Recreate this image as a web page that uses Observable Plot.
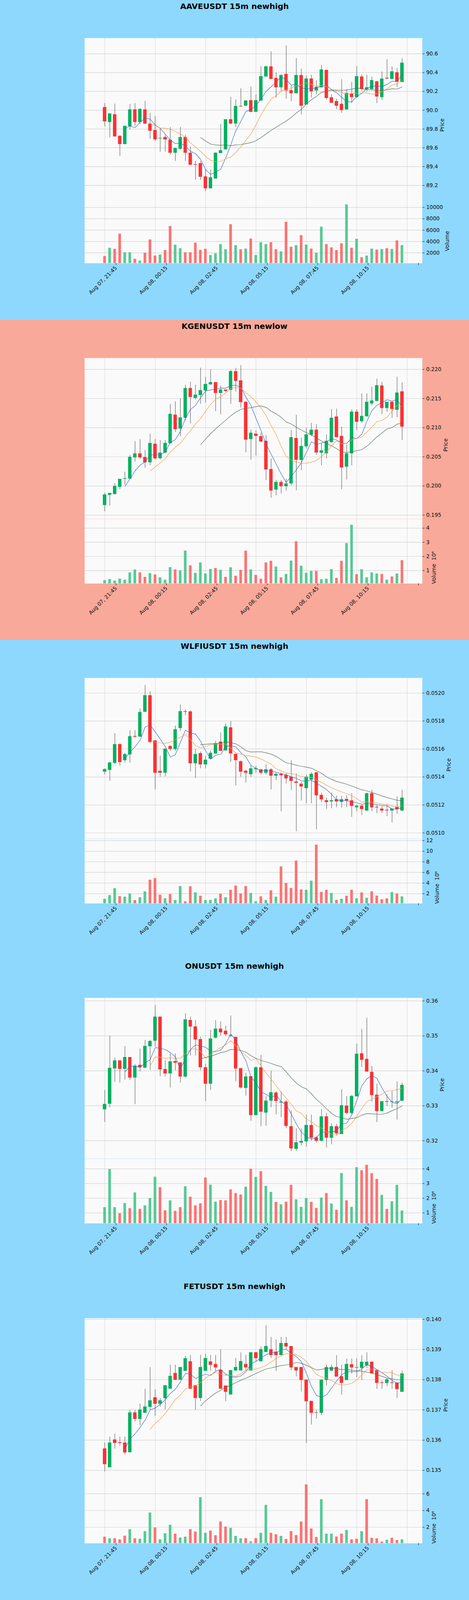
<!DOCTYPE html>
<html><head><meta charset="utf-8">
<script src="https://cdn.jsdelivr.net/npm/d3@7"></script>
<script src="https://cdn.jsdelivr.net/npm/@observablehq/plot@0.6"></script>
<style>
html,body{margin:0;padding:0;}
body{width:1200px;overflow:hidden;font-family:"DejaVu Sans",sans-serif;}
.panel{position:relative;width:1200px;overflow:hidden;}
.title{position:absolute;left:0;width:1200px;text-align:center;font-family:"DejaVu Sans";font-weight:bold;font-size:20px;line-height:24px;color:#000;}
.panel svg{position:absolute;left:0;overflow:visible;}
</style></head><body><div id="root"></div>
<script>
// ---------- shared axis data ----------
const xTickIdx = [0, 10, 20, 30, 40, 50, 60];
const xTickLabels = ["Aug 07, 21:45", "Aug 08, 00:15", "Aug 08, 02:45", "Aug 08, 05:15", "Aug 08, 07:45", "Aug 08, 10:15", ""];
const maWindows = [5, 10, 20];

// ---------- AAVEUSDT ----------
const aaveOpen = [90.03,89.874,89.953,89.724,89.64,89.83,90.005,89.874,90.005,89.854, 89.786,89.70,89.711,89.682,89.548,89.59,89.711,89.544,89.422,89.433, 89.292,89.169,89.273,89.544,89.584,89.90,89.858,90.042,90.048,90.103, 89.983,90.103,90.359,90.463,90.34,90.244,90.382,90.21,90.181,90.371, 90.061,90.333,90.21,90.244,90.425,90.133,90.094,90.064,90.009,90.172, 90.14,90.355,90.225,90.225,90.303,90.14,90.342,90.333,90.40,90.30];
const aaveHigh = [90.074,89.962,90.068,89.73,89.83,90.064,90.074,90.02,90.098,89.97, 89.937,89.81,89.734,89.819,89.60,89.819,89.734,89.61,89.459,89.459, 89.368,89.368,89.55,89.852,89.90,90.14,90.113,90.231,90.10,90.25, 90.166,90.467,90.47,90.624,90.40,90.38,90.69,90.264,90.552,90.44, 90.369,90.375,90.316,90.48,90.43,90.166,90.12,90.329,90.22,90.30, 90.467,90.38,90.375,90.355,90.31,90.41,90.541,90.463,90.447,90.552];
const aaveLow = [89.826,89.708,89.72,89.512,89.64,89.793,89.83,89.85,89.85,89.695, 89.669,89.557,89.557,89.525,89.459,89.58,89.459,89.42,89.257,89.257, 89.135,89.169,89.27,89.544,89.58,89.85,89.82,90.035,90.045,89.976, 89.983,90.10,90.355,90.33,90.133,90.20,90.12,90.094,90.18,89.95, 90.06,90.133,90.166,90.24,90.113,90.08,90.009,89.97,90.0,90.074, 90.13,90.205,90.20,90.22,90.074,90.107,90.33,90.33,90.244,90.30];
const aaveClose = [89.881,89.962,89.721,89.64,89.83,90.005,89.874,90.01,89.858,89.782, 89.69,89.702,89.69,89.548,89.593,89.711,89.548,89.42,89.42,89.292, 89.169,89.283,89.544,89.571,89.90,89.858,90.041,90.04,90.10,89.983, 90.103,90.359,90.463,90.333,90.244,90.371,90.21,90.181,90.371,90.048, 90.333,90.202,90.244,90.43,90.13,90.08,90.048,90.002,90.179,90.14, 90.359,90.225,90.24,90.316,90.146,90.333,90.338,90.41,90.303,90.502];
const aaveVolume = [1420,2865,2685,5350,2070,2070,920,600,2000,4340, 1500,1680,2470,6690,3400,2790,2070,2070,3770,2500, 2685,1600,1890,3510,2610,7010,3330,2610,2720,4490, 1600,3840,3510,3840,2610,2220,7440,3050,3330,5100, 3440,2720,2000,6580,3510,2940,2470,3660,10500,2865, 4450,1210,1500,2720,2540,2650,2790,2650,4160,3330];
const aaveVolDir = "dudduududd" + "dudduudddd" + "duuuududud" + "uuudduddud" + "uduuddddud" + "uduudududu";
const aavePriceTicks = [89.2, 89.4, 89.6, 89.8, 90.0, 90.2, 90.4, 90.6];
const aaveVolTicks = [2000, 4000, 6000, 8000, 10000];

// ---------- KGENUSDT ----------
const kgenOpen = [0.19673,0.19848,0.19863,0.19985,0.20124,0.20126,0.2049,0.20553,0.2049,0.20406, 0.20718,0.20476,0.20574,0.20732,0.21217,0.20985,0.2117,0.21674,0.21511,0.2156, 0.21638,0.21743,0.21775,0.21596,0.21648,0.21648,0.21964,0.21806,0.21438,0.20806, 0.2089,0.20848,0.20768,0.20284,0.19938,0.20063,0.19995,0.20044,0.20816,0.20448, 0.2068,0.20878,0.2096,0.2057,0.2056,0.20753,0.21185,0.20852,0.20332,0.2056, 0.21269,0.21111,0.21196,0.21417,0.21459,0.21718,0.21337,0.21438,0.21307,0.21617];
const kgenHigh = [0.19879,0.1988,0.20048,0.2012,0.20241,0.20532,0.20764,0.20802,0.20616,0.20894, 0.20802,0.20785,0.20785,0.21406,0.21448,0.21501,0.21733,0.21785,0.21733,0.22027, 0.21869,0.22,0.2178,0.2172,0.2165,0.21985,0.22023,0.2207,0.2145,0.20964, 0.20953,0.20911,0.2087,0.20469,0.2010,0.2010,0.2012,0.20958,0.21217,0.20827, 0.20995,0.2108,0.21059,0.20732,0.2088,0.21316,0.21322,0.21017,0.20705,0.21311, 0.21311,0.21585,0.21585,0.2170,0.21838,0.21785,0.21438,0.2144,0.21869,0.21775];
const kgenLow = [0.19563,0.19658,0.19848,0.19942,0.20016,0.2012,0.20416,0.2046,0.20311,0.20353, 0.20448,0.2045,0.20553,0.2073,0.20922,0.2085,0.21122,0.21069,0.2148,0.21406, 0.21427,0.2173,0.2128,0.21227,0.2161,0.21406,0.21617,0.21343,0.20574,0.20448, 0.2052,0.20743,0.2010,0.19795,0.19837,0.19869,0.19917,0.20006,0.19921,0.20269, 0.20637,0.2085,0.2053,0.20353,0.20469,0.2074,0.20827,0.19942,0.20111,0.20353, 0.20953,0.2108,0.21185,0.2138,0.21448,0.21227,0.21269,0.21164,0.21174,0.20785];
const kgenClose = [0.19848,0.19873,0.19995,0.20115,0.20128,0.20494,0.20553,0.2049,0.20406,0.20732, 0.20473,0.20566,0.20732,0.21231,0.20974,0.2117,0.21674,0.21526,0.2156,0.21638, 0.21743,0.21775,0.21596,0.21648,0.21631,0.21964,0.21802,0.21438,0.20795,0.20907, 0.20859,0.20764,0.20284,0.19921,0.20063,0.19995,0.20037,0.20831,0.20448,0.2068, 0.20878,0.2096,0.20574,0.20605,0.20768,0.21164,0.20837,0.20317,0.20553,0.21269, 0.21101,0.21196,0.21438,0.21459,0.21722,0.21337,0.21438,0.21322,0.21596,0.21017];
const kgenVolume = [0.31,0.39,0.28,0.42,0.34,0.86,1.06,0.86,0.54,0.81, 0.71,0.51,0.34,1.23,1.07,1.0,2.4,1.36,0.83,1.56, 0.78,1.1,1.17,1.04,0.54,1.22,0.62,1.04,2.4,1.07, 0.68,0.41,1.56,1.68,1.27,0.51,0.75,1.69,3.06,1.33, 0.83,0.96,0.96,0.38,0.41,1.09,0.47,1.68,2.93,4.23, 0.73,1.09,0.51,0.86,0.78,0.75,0.34,0.57,0.78,1.72]; // x 10^6
const kgenVolDir = "uuuuuuuddu" + "duuuduuduu" + "uudududddu" + "dddduduudu" + "uuduuudduu" + "duuuududud";
const kgenPriceTicks = [0.195, 0.200, 0.205, 0.210, 0.215, 0.220];
const kgenVolTicks = [1, 2, 3, 4];

// ---------- WLFIUSDT ----------
const wlfiOpen = [0.051438,0.05145,0.051501,0.051632,0.05152,0.051561,0.05169,0.051689,0.051866,0.051982, 0.051659,0.051441,0.05143,0.051619,0.0516,0.05175,0.051868,0.051866,0.051498,0.051568, 0.05149,0.05153,0.051568,0.05165,0.05159,0.051752,0.051563,0.05151,0.051441,0.05142, 0.051455,0.051452,0.05143,0.051452,0.051409,0.05142,0.051412,0.0514,0.051365,0.051349, 0.05132,0.051381,0.05143,0.051269,0.051231,0.051225,0.051238,0.051222,0.05124,0.05123, 0.051183,0.051192,0.05116,0.051281,0.051184,0.051171,0.051163,0.05116,0.051183,0.05116];
const wlfiHigh = [0.05146,0.051507,0.051712,0.051639,0.05157,0.051733,0.051733,0.051889,0.052056,0.052012, 0.05166,0.05155,0.0516,0.051626,0.051766,0.051917,0.051881,0.051875,0.051599,0.051581, 0.05155,0.051586,0.051657,0.051717,0.051782,0.051798,0.051563,0.051516,0.051452,0.051479, 0.051479,0.051454,0.051489,0.051461,0.051427,0.05143,0.05143,0.051519,0.051425,0.051363, 0.051416,0.051434,0.051434,0.051287,0.051251,0.051287,0.051265,0.051263,0.051269,0.051283, 0.051198,0.051198,0.051285,0.051307,0.051198,0.051189,0.051207,0.051174,0.05126,0.051307];
const wlfiLow = [0.051416,0.051372,0.051492,0.05148,0.051501,0.051501,0.05168,0.051684,0.051862,0.051639, 0.051309,0.0514,0.051403,0.051586,0.051586,0.051728,0.05184,0.051438,0.051391,0.051461, 0.051461,0.051528,0.051563,0.051585,0.051586,0.051507,0.051338,0.0514,0.051358,0.0514, 0.051427,0.051416,0.051416,0.051309,0.051376,0.051153,0.051352,0.051305,0.051011,0.05123, 0.051211,0.051211,0.051024,0.051218,0.051171,0.051175,0.051183,0.05118,0.051183,0.051113, 0.051153,0.051127,0.051155,0.051153,0.05114,0.05114,0.051118,0.051073,0.051135,0.051153];
const wlfiClose = [0.051454,0.051501,0.051632,0.051507,0.051561,0.051689,0.051688,0.051862,0.051982,0.05165, 0.05143,0.05143,0.0516,0.0516,0.051739,0.051868,0.051866,0.051498,0.051561,0.05149, 0.051521,0.05157,0.051639,0.051587,0.051759,0.051568,0.05152,0.051438,0.05143,0.051459, 0.05146,0.05143,0.051452,0.051409,0.05142,0.051412,0.05139,0.051372,0.051358,0.051332, 0.0514,0.05142,0.051269,0.05124,0.05122,0.051231,0.051225,0.051238,0.051231,0.051193, 0.051192,0.051171,0.051281,0.051183,0.051182,0.05116,0.051161,0.051171,0.051171,0.05125];
const wlfiVolume = [1.0,1.7,3.0,1.5,1.4,2.0,0.77,1.3,2.4,4.6, 4.9,1.77,1.08,1.9,0.77,3.4,0.54,3.35,2.2,1.58, 0.77,0.8,1.08,1.96,1.3,2.7,3.5,2.0,3.4,2.1, 0.54,1.46,0.77,2.6,1.4,7.1,4.0,3.04,8.2,2.77, 2.7,4.4,11.2,2.3,2.7,2.1,0.8,1.0,1.58,2.7, 1.08,2.2,1.2,2.4,1.6,0.92,1.08,2.27,2.0,1.46]; // x 10^6
const wlfiVolDir = "uuuduuduud" + "dduduuddud" + "uuududdddu" + "udududdddd" + "uudddududd" + "ududdddudu";
const wlfiPriceTicks = [0.0510, 0.0512, 0.0514, 0.0516, 0.0518, 0.0520];
const wlfiVolTicks = [2, 4, 6, 8, 10, 12];

// ---------- ONUSDT ----------
const onOpen = [0.329007,0.330597,0.3407,0.342895,0.340563,0.343849,0.338089,0.341623,0.340916,0.34703, 0.348621,0.355406,0.340422,0.339256,0.342683,0.3423,0.338372,0.354452,0.352615,0.348974, 0.340916,0.336322,0.349504,0.351978,0.351377,0.3501,0.34961,0.340669,0.335121,0.338372, 0.327346,0.340916,0.328053,0.331481,0.333707,0.330951,0.331128,0.324059,0.317698,0.31947, 0.319819,0.324412,0.320879,0.32,0.326887,0.320879,0.324059,0.321939,0.329961,0.32795, 0.332717,0.34491,0.343319,0.339609,0.33307,0.328477,0.331198,0.33113,0.33095,0.331481];
const onHigh = [0.334485,0.350034,0.343744,0.3429,0.34703,0.34385,0.341906,0.346324,0.348797,0.3488, 0.358798,0.35545,0.342966,0.34491,0.34491,0.3424,0.356395,0.355512,0.354452,0.349681, 0.341977,0.35173,0.354452,0.354098,0.352861,0.3558,0.3497,0.34067,0.339433,0.3384, 0.341199,0.344557,0.332717,0.339962,0.334131,0.3341,0.331658,0.328654,0.323529,0.32353, 0.327417,0.327417,0.321409,0.329007,0.327947,0.324943,0.32477,0.334662,0.332717,0.33307, 0.347737,0.351978,0.355158,0.341376,0.336251,0.3312,0.333247,0.334131,0.336959,0.336605];
const onLow = [0.325296,0.329537,0.336782,0.336605,0.337488,0.337382,0.330421,0.339786,0.340669,0.3403, 0.346854,0.338372,0.338372,0.335191,0.34014,0.336605,0.338019,0.34438,0.34438,0.34014, 0.331304,0.334485,0.349151,0.350034,0.34996,0.3496,0.33696,0.334838,0.332894,0.325649, 0.3272,0.324059,0.324236,0.329537,0.327487,0.32671,0.323529,0.316992,0.316992,0.318583, 0.318229,0.319996,0.319465,0.3198,0.318052,0.318935,0.321409,0.3218,0.327593,0.32759, 0.3327,0.341022,0.3397,0.331128,0.325296,0.3284,0.32989,0.32936,0.326003,0.3313];
const onClose = [0.330421,0.340775,0.342895,0.340563,0.343849,0.338089,0.341376,0.341022,0.34703,0.348444, 0.355406,0.340422,0.339256,0.342613,0.34233,0.338372,0.354628,0.352685,0.348974,0.341022, 0.336322,0.349151,0.351978,0.351024,0.350458,0.35,0.340669,0.335262,0.338301,0.327346, 0.340916,0.3283,0.331375,0.333778,0.331375,0.331128,0.324236,0.317804,0.319465,0.319819, 0.324412,0.320879,0.319996,0.326887,0.320879,0.324059,0.322115,0.330067,0.327947,0.332717, 0.344804,0.343143,0.339786,0.33307,0.328477,0.331198,0.33113,0.33117,0.33113,0.335898];
const onVolume = [1.38,3.97,1.38,0.96,1.66,1.31,2.38,1.26,1.5,2.0, 3.45,2.74,1.17,1.84,1.13,1.38,2.8,2.09,1.5,1.64, 3.4,2.91,1.75,1.86,1.84,2.59,2.34,2.24,2.77,4.0, 3.44,3.83,2.83,2.42,1.74,1.57,1.75,2.9,1.91,1.4, 2.0,1.74,1.33,2.03,2.34,1.63,1.2,3.7,1.84,1.4, 4.1,3.89,4.26,3.69,3.3,2.21,1.26,1.78,2.9,1.15]; // x 10^6
const onVolDir = "uuudududuu" + "uddudduddd" + "duudddddud" + "uduududduu" + "uddudududu" + "udddduduuu";
const onPriceTicks = [0.32, 0.33, 0.34, 0.35, 0.36];
const onVolTicks = [1, 2, 3, 4];

// ---------- FETUSDT ----------
const fetOpen = [0.135714,0.135102,0.136008,0.13592,0.13591,0.1356,0.136906,0.136702,0.136906,0.137102, 0.137408,0.137204,0.137388,0.137702,0.138212,0.138,0.138294,0.1386,0.137804,0.137396, 0.138294,0.138592,0.13851,0.138318,0.137796,0.13751,0.138306,0.138306,0.13851,0.138306, 0.138898,0.138612,0.138918,0.139,0.138918,0.138816,0.139204,0.139102,0.138408,0.138408, 0.137992,0.137286,0.136906,0.136906,0.137992,0.1383,0.138408,0.138102,0.137992,0.1385, 0.138405,0.138393,0.138477,0.138584,0.138313,0.1379,0.137893,0.1379,0.137893,0.1376];
const fetHigh = [0.135918,0.136114,0.136204,0.136114,0.136114,0.137,0.137,0.137204,0.137694,0.138408, 0.137673,0.137388,0.137804,0.13849,0.13849,0.13841,0.138784,0.138816,0.137804,0.138816, 0.138857,0.138816,0.138816,0.139,0.1378,0.13831,0.138714,0.138898,0.138816,0.1389, 0.1389,0.139102,0.139796,0.139408,0.139327,0.139408,0.139408,0.139102,0.13841,0.13841, 0.138,0.13729,0.137,0.138,0.13849,0.13849,0.138808,0.13849,0.138694,0.1387, 0.1387,0.138804,0.138897,0.1386,0.13832,0.137963,0.138056,0.138313,0.1379,0.13829];
const fetLow = [0.134959,0.1351,0.135714,0.135816,0.135518,0.1356,0.136612,0.13649,0.1369,0.137, 0.136796,0.137102,0.13702,0.1377,0.13798,0.138,0.13829,0.1377,0.137,0.137286, 0.13829,0.13829,0.138286,0.1377,0.137286,0.13751,0.1383,0.1383,0.138306,0.1383, 0.138592,0.13859,0.138918,0.138714,0.138286,0.1388,0.139,0.138306,0.138102,0.1376, 0.135898,0.13651,0.136702,0.136816,0.137804,0.1383,0.1381,0.137502,0.13799,0.138206, 0.13808,0.137986,0.138383,0.1382,0.137692,0.137692,0.137785,0.137692,0.137393,0.1376];
const fetClose = [0.135204,0.13591,0.13591,0.13591,0.135592,0.136906,0.136702,0.137,0.137102,0.137306, 0.137204,0.137306,0.137804,0.138114,0.138,0.138408,0.138702,0.137702,0.137396,0.138408, 0.138706,0.13849,0.138408,0.137702,0.1376,0.138306,0.138408,0.138604,0.138408,0.138898, 0.138714,0.139,0.139102,0.138816,0.138816,0.139204,0.139102,0.138408,0.138306,0.137992, 0.137286,0.136906,0.136904,0.137992,0.138408,0.138408,0.138102,0.137898,0.13851,0.138407, 0.1384,0.138584,0.138584,0.138206,0.137893,0.137893,0.138,0.137893,0.137692,0.138196];
const fetVolume = [0.85,0.65,0.65,0.53,0.97,1.73,0.65,0.6,1.51,3.74, 1.95,0.53,1.26,2.27,1.21,0.75,0.85,1.75,1.46,5.58, 1.31,1.58,1.02,2.66,2.05,1.9,0.94,0.65,0.67,0.3, 0.67,1.31,4.65,1.31,1.14,0.94,0.58,1.51,1.04,2.66, 7.1,1.83,0.82,5.34,1.21,1.21,0.87,1.21,1.66,0.53, 0.6,1.51,5.34,0.72,0.65,0.26,0.48,0.72,0.45,0.53]; // x 10^6
const fetVolDir = "duddduduuu" + "duuuduuddu" + "udddduuudu" + "duuddudddd" + "ddduuuddud" + "dudddduddu";
const fetPriceTicks = [0.135, 0.136, 0.137, 0.138, 0.139, 0.140];
const fetVolTicks = [2, 4, 6];

// ---------- styling / layout ----------
// The layout is designed for a 4310px-tall page; if the visible viewport is shorter,
// the vertical layout is compressed so that every panel stays in view.
const DESIGN_H = 4310;
const viewH = (window.innerHeight && window.innerHeight > 1000) ? Math.min(DESIGN_H, window.innerHeight) : DESIGN_H;
const SY = viewH / DESIGN_H;
const W = 1200, ML = 216, MR = 120;
const PANEL_H = 862 * SY;
const PRICE_TOP = 102 * SY, SPLIT = 535 * SY, BOTTOM = 709 * SY, XAXIS_SPACE = 110;
const TITLE_TOP = 4 * SY;
const X_DOMAIN = [-4, 63];
const UP = "#00b060", DOWN = "#fe3032", VUP = "#4dc790", VDOWN = "#fd6b6c", WICK = "#444444";
const MA_COLORS = ["#3b6cc6", "#f59b4c", "#56705f"];
const FONT = '"DejaVu Sans", sans-serif';
const TICK_FS = 13.5, LABEL_FS = 13.9;
const BLUE_BG = "#8ed8fe", SALMON_BG = "#f8a99a";

const panels = [
  {title: "AAVEUSDT 15m newhigh", bg: BLUE_BG, o: aaveOpen, h: aaveHigh, l: aaveLow, c: aaveClose, v: aaveVolume, vd: aaveVolDir, pt: aavePriceTicks, pf: d => d.toFixed(1), vt: aaveVolTicks, vl: "Volume"},
  {title: "KGENUSDT 15m newlow", bg: SALMON_BG, o: kgenOpen, h: kgenHigh, l: kgenLow, c: kgenClose, v: kgenVolume, vd: kgenVolDir, pt: kgenPriceTicks, pf: d => d.toFixed(3), vt: kgenVolTicks, vl: "Volume\u00a0 10\u2076"},
  {title: "WLFIUSDT 15m newhigh", bg: BLUE_BG, o: wlfiOpen, h: wlfiHigh, l: wlfiLow, c: wlfiClose, v: wlfiVolume, vd: wlfiVolDir, pt: wlfiPriceTicks, pf: d => d.toFixed(4), vt: wlfiVolTicks, vl: "Volume\u00a0 10\u2076"},
  {title: "ONUSDT 15m newhigh", bg: BLUE_BG, o: onOpen, h: onHigh, l: onLow, c: onClose, v: onVolume, vd: onVolDir, pt: onPriceTicks, pf: d => d.toFixed(2), vt: onVolTicks, vl: "Volume\u00a0 10\u2076"},
  {title: "FETUSDT 15m newhigh", bg: BLUE_BG, o: fetOpen, h: fetHigh, l: fetLow, c: fetClose, v: fetVolume, vd: fetVolDir, pt: fetPriceTicks, pf: d => d.toFixed(3), vt: fetVolTicks, vl: "Volume\u00a0 10\u2076"}
];

const ctx = document.createElement("canvas").getContext("2d");
function textWidth(s, size) { ctx.font = `${size}px "DejaVu Sans"`; return ctx.measureText(s).width; }

document.body.style.height = (PANEL_H * panels.length) + "px";
const root = document.getElementById("root");
for (const p of panels) {
  const div = document.createElement("div");
  div.className = "panel";
  div.style.height = PANEL_H + "px";
  div.style.background = p.bg;
  const t = document.createElement("div");
  t.className = "title";
  t.style.top = TITLE_TOP + "px";
  t.textContent = p.title;
  div.appendChild(t);

  const data = p.o.map((o, i) => ({i, open: o, high: p.h[i], low: p.l[i], close: p.c[i], vol: p.v[i], vup: p.vd[i] === "u"}));
  const lo = d3.min(p.l), hi = d3.max(p.h), pad = (hi - lo) * 0.05;
  const yDom = [lo - pad, hi + pad];
  const vDom = [0.3 * d3.min(p.v), 1.1 * d3.max(p.v)];
  const vf = d => String(d);
  const priceLabelDx = 10 + d3.max(p.pt, d => textWidth(p.pf(d), TICK_FS)) + 11;
  const volLabelDx = 10 + d3.max(p.vt, d => textWidth(vf(d), TICK_FS)) + 11;

  const price = Plot.plot({
    width: W, height: SPLIT - PRICE_TOP,
    marginLeft: ML, marginRight: MR, marginTop: 0, marginBottom: 0,
    style: {background: "transparent", fontFamily: FONT, overflow: "visible"},
    x: {domain: X_DOMAIN, axis: null},
    y: {domain: yDom, axis: null},
    marks: [
      Plot.frame({fill: "#fafafa", stroke: "none"}),
      Plot.gridX(xTickIdx, {stroke: "#dcdcdc", strokeOpacity: 1, strokeWidth: 1.2}),
      Plot.gridY(p.pt, {stroke: "#d0d0d0", strokeOpacity: 1, strokeWidth: 1.2}),
      Plot.ruleX(data, {x: "i", y1: "low", y2: "high", stroke: WICK, strokeWidth: 1}),
      Plot.rect(data, {x1: d => d.i - 0.3, x2: d => d.i + 0.3, y1: "open", y2: "close",
        fill: d => d.close >= d.open ? UP : DOWN, stroke: d => d.close >= d.open ? UP : DOWN, strokeWidth: 1}),
      ...maWindows.map((k, j) => Plot.line(data, Plot.windowY({k, anchor: "end", strict: true, reduce: "mean"},
        {x: "i", y: "close", stroke: MA_COLORS[j], strokeWidth: 1.2}))),
      Plot.axisY(p.pt, {anchor: "right", tickSize: 5, tickPadding: 5, tickFormat: p.pf, fontSize: TICK_FS, color: "#101010", label: null}),
      Plot.text(["Price"], {frameAnchor: "right", dx: priceLabelDx, rotate: -90, fontSize: LABEL_FS, fill: "#101010"})
    ]
  });
  price.style.top = PRICE_TOP + "px";
  div.appendChild(price);

  const vol = Plot.plot({
    width: W, height: BOTTOM - SPLIT + XAXIS_SPACE,
    marginLeft: ML, marginRight: MR, marginTop: 0, marginBottom: XAXIS_SPACE,
    style: {background: "transparent", fontFamily: FONT, overflow: "visible"},
    x: {domain: X_DOMAIN, axis: null},
    y: {domain: vDom, axis: null},
    marks: [
      Plot.frame({fill: "#fafafa", stroke: "none"}),
      Plot.gridX(xTickIdx, {stroke: "#dcdcdc", strokeOpacity: 1, strokeWidth: 1.2}),
      Plot.gridY(p.vt, {stroke: "#d0d0d0", strokeOpacity: 1, strokeWidth: 1.2}),
      Plot.rect(data, {x1: d => d.i - 0.26, x2: d => d.i + 0.26, y1: vDom[0], y2: "vol",
        fill: d => d.vup ? VUP : VDOWN, fillOpacity: 0.95}),
      Plot.axisY(p.vt, {anchor: "right", tickSize: 5, tickPadding: 5, tickFormat: vf, fontSize: TICK_FS, color: "#101010", label: null}),
      Plot.axisX(xTickIdx, {anchor: "bottom", tickSize: 5, tickPadding: 5, tickRotate: -45,
        tickFormat: d => xTickLabels[d / 10], fontSize: TICK_FS, color: "#101010", label: null, dx: 29, dy: 0}),
      Plot.text([p.vl], {frameAnchor: "right", dx: volLabelDx, rotate: -90, fontSize: LABEL_FS, fill: "#101010"})
    ]
  });
  vol.style.top = SPLIT + "px";
  div.appendChild(vol);
  root.appendChild(div);
}
</script></body></html>
